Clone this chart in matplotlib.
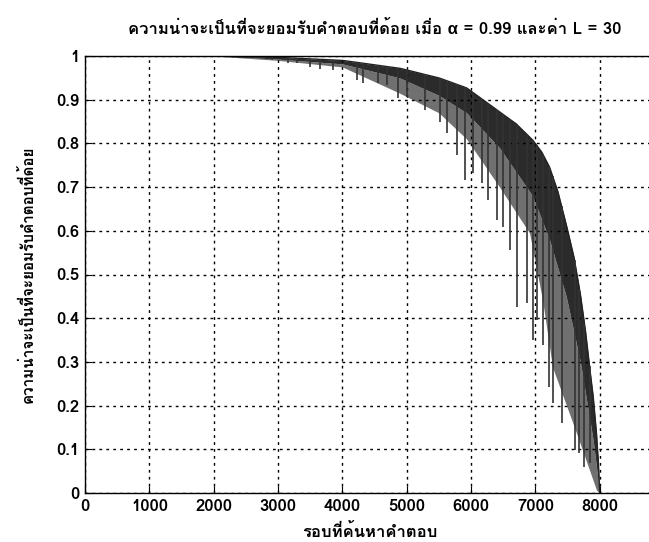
import matplotlib
matplotlib.use('Agg')
import numpy as np
import matplotlib.pyplot as plt
from matplotlib import font_manager
from matplotlib.ft2font import FT2Font

# values
upper_x = [0, 2000, 3000, 4000, 4891, 5500, 5932, 6444, 6700, 6957, 7100, 7220, 7350, 7480,
           7600, 7700, 7780, 7842, 7900, 7950, 7980, 8000]
upper_y = [1.0, 1.0, 0.997, 0.99, 0.972, 0.95, 0.927, 0.872, 0.845, 0.808, 0.78, 0.746, 0.69,
           0.615, 0.54, 0.455, 0.37, 0.29, 0.22, 0.137, 0.07, 0.0]
core_x = [0, 2000, 3000, 4000, 4891, 5500, 5932, 6444, 6957, 7220, 7480, 7700, 7900, 8000]
core_y = [1.0, 1.0, 0.993, 0.982, 0.95, 0.91, 0.87, 0.79, 0.68, 0.58, 0.45, 0.30, 0.12, 0.0]
lower_x = [0, 2000, 3000, 4000, 4891, 5500, 5932, 6444, 6910, 7112, 7267, 7640, 7950, 8000]
lower_y = [1.0, 1.0, 0.99, 0.975, 0.915, 0.87, 0.81, 0.70, 0.595, 0.442, 0.288, 0.137, 0.007, 0.0]

spike_x = [2600, 2900, 3150, 3300, 3500, 3650, 3851, 4224, 4317, 4550, 4689, 4860, 5000, 5280,
           5512, 5621, 5776, 5901, 6025, 6165, 6258, 6398, 6491, 6599, 6708, 6863, 6957,
           7019, 7112, 7220, 7267, 7407, 7609, 7686, 7764, 7842]
spike_y = [0.995, 0.99, 0.985, 0.985, 0.975, 0.97, 0.968, 0.945, 0.938, 0.938, 0.934, 0.904,
           0.906, 0.876, 0.849, 0.824, 0.773, 0.716, 0.732, 0.709, 0.670, 0.625, 0.609, 0.556,
           0.426, 0.435, 0.350, 0.396, 0.339, 0.243, 0.206, 0.160, 0.098, 0.092, 0.059, 0.069]

x_ticks = [0, 1000, 2000, 3000, 4000, 5000, 6000, 7000, 8000]
y_ticks = [0, 0.1, 0.2, 0.3, 0.4, 0.5, 0.6, 0.7, 0.8, 0.9, 1]
y_labels = ['0', '0.1', '0.2', '0.3', '0.4', '0.5', '0.6', '0.7', '0.8', '0.9', '1']

title = 'ความน่าจะเป็นที่จะยอมรับคำตอบที่ด้อย เมื่อ \u03b1 = 0.99 และค่า L = 30'
xlab = 'รอบที่ค้นหาคำตอบ'
ylab = 'ความน่าจะเป็นที่จะยอมรับคำตอบที่ด้อย'

# look for any installed font that has Thai glyphs
thai = None
for f in font_manager.fontManager.ttflist:
    try:
        cmap = FT2Font(f.fname).get_charmap()
    except Exception:
        continue
    if 0x0E01 in cmap and 0x0E33 in cmap:
        thai = f.name
        if f.weight in ('bold', 700):
            break
fams = [thai, 'Liberation Sans', 'DejaVu Sans'] if thai else ['Liberation Sans', 'DejaVu Sans']
plt.rcParams['font.family'] = fams

fig = plt.figure(figsize=(6.49, 5.42), dpi=100)
ax = fig.add_axes([85 / 649, 49 / 542, 579 / 649, 437 / 542])

xx = np.linspace(0, 8000, 801)
up = np.interp(xx, upper_x, upper_y)
core = np.minimum(np.interp(xx, core_x, core_y), up)
lo = np.minimum(np.interp(xx, lower_x, lower_y), core)
ax.fill_between(xx, lo, core, color='#707070', linewidth=0)
ax.fill_between(xx, core, up, color='#2b2b2b', linewidth=0)
ax.plot(xx, up, color='#222222', linewidth=1.0)
top_at_spike = np.interp(spike_x, upper_x, upper_y)
ax.vlines(spike_x, spike_y, top_at_spike, color='#333333', linewidth=1.2)

ax.set_xlim(0, 9000)
ax.set_ylim(0, 1)
ax.set_xticks(x_ticks)
ax.set_yticks(y_ticks)
ax.set_yticklabels(y_labels)
ax.tick_params(direction='in', length=5, labelsize=12, pad=4, top=False, right=False)
for lab in ax.get_xticklabels() + ax.get_yticklabels():
    lab.set_fontweight('bold')
ax.grid(True, color='black', linestyle=(0, (2, 3)), linewidth=1.0)
for s in ax.spines.values():
    s.set_linewidth(1.0)

ax.set_title(title, fontsize=12, fontweight='bold', pad=16)
ax.set_xlabel(xlab, fontsize=12, fontweight='bold')
ax.set_ylabel(ylab, fontsize=11, fontweight='bold')
ax.xaxis.set_label_coords((370 - 85) / 579, -0.068)
ax.yaxis.set_label_coords((36 - 85) / 579, 0.5)

fig.savefig('out.png', dpi=100)
